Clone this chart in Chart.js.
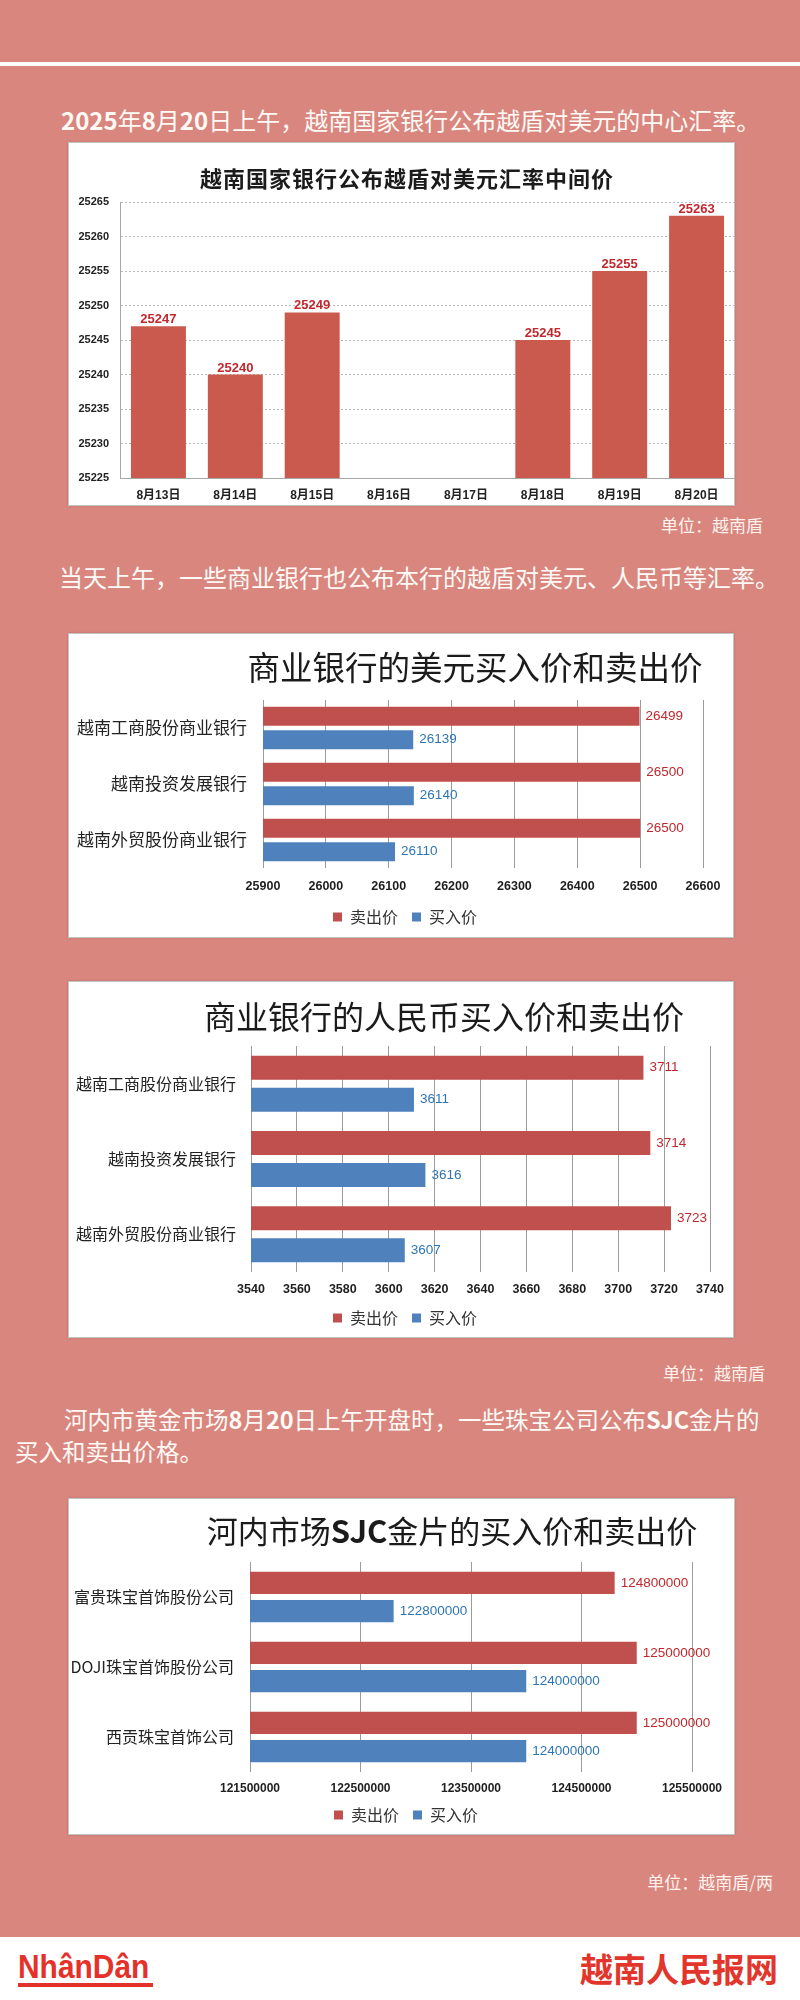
<!DOCTYPE html>
<html><head><meta charset="utf-8">
<script src="https://cdn.jsdelivr.net/npm/chart.js@4.4.1/dist/chart.umd.min.js"></script>
<style>
html,body{margin:0;padding:0}
body{width:800px;height:2000px;position:relative;overflow:hidden;background:#d9867f;font-family:'Noto Sans CJK SC','Noto Sans',sans-serif}
.line{position:absolute;left:0;top:62px;width:800px;height:4px;background:#fff}
.para{position:absolute;color:#fffaf6;font-size:24px;line-height:32px;white-space:nowrap}
.para b{font-weight:700}
.unit{position:absolute;width:300px;color:#fff3ee;font-size:17px;line-height:24px;white-space:nowrap;text-align:right}
.box{position:absolute;background:#fff;box-sizing:border-box;border:1px solid #c4c4c4;box-shadow:0 0 2px rgba(0,0,0,.18)}
.cw{position:absolute}
.ttl{position:absolute;width:700px;text-align:center;white-space:nowrap;color:#1b1b1b}
.footer{position:absolute;left:0;top:1937px;width:800px;height:63px;background:#fff}
</style></head>
<body>
<div class="line"></div>
<div class="para" style="left:61px;top:104px"><b>2025</b>年<b>8</b>月<b>20</b>日上午，越南国家银行公布越盾对美元的中心汇率。</div>

<div class="box" style="left:68px;top:142px;width:667px;height:364px"></div>
<div class="cw" style="left:68px;top:142px;width:667px;height:364px"><canvas id="c1"></canvas></div>
<div class="ttl" style="left:57px;top:161px;font-size:22px;line-height:32px;font-weight:700;letter-spacing:1px">越南国家银行公布越盾对美元汇率中间价</div>
<div class="unit" style="left:463px;top:513px">单位：越南盾</div>

<div class="para" style="left:59px;top:561px">当天上午，一些商业银行也公布本行的越盾对美元、人民币等汇率。</div>

<div class="box" style="left:68px;top:633px;width:666px;height:305px"></div>
<div class="cw" style="left:68px;top:633px;width:674px;height:305px"><canvas id="c2"></canvas></div>
<div class="ttl" style="left:125px;top:644px;font-size:32.5px;line-height:44px">商业银行的美元买入价和卖出价</div>

<div class="box" style="left:68px;top:981px;width:666px;height:357px"></div>
<div class="cw" style="left:68px;top:981px;width:674px;height:357px"><canvas id="c3"></canvas></div>
<div class="ttl" style="left:94px;top:993px;font-size:32px;line-height:44px">商业银行的人民币买入价和卖出价</div>
<div class="unit" style="left:465px;top:1361px">单位：越南盾</div>

<div class="para" style="left:64px;top:1403px;font-size:23.5px">河内市黄金市场<b>8</b>月<b>20</b>日上午开盘时，一些珠宝公司公布<b>SJC</b>金片的</div>
<div class="para" style="left:15px;top:1435px;font-size:23.5px">买入和卖出价格。</div>

<div class="box" style="left:68px;top:1498px;width:667px;height:337px"></div>
<div class="cw" style="left:68px;top:1498px;width:676px;height:337px"><canvas id="c4"></canvas></div>
<div class="ttl" style="left:102px;top:1508px;font-size:31px;line-height:44px">河内市场<b>SJC</b>金片的买入价和卖出价</div>
<div class="unit" style="left:473px;top:1870px">单位：越南盾/两</div>

<div class="footer"></div>
<div style="position:absolute;left:18px;top:1950px;font-family:'Liberation Sans',Arial,sans-serif;font-weight:700;font-size:34px;line-height:32px;color:#e4322b;transform:scaleX(0.88);transform-origin:left top;white-space:nowrap">NhânDân</div>
<div style="position:absolute;left:18px;top:1983px;width:135px;height:4px;background:#e4322b"></div>
<div style="position:absolute;left:478px;top:1948px;width:300px;text-align:right;font-weight:700;font-size:33px;line-height:40px;color:#e2352c;white-space:nowrap">越南人民报网</div>

<script>
// ---- data ----
const rateDays = ['8月13日','8月14日','8月15日','8月16日','8月17日','8月18日','8月19日','8月20日'];
const centralRate = [25247, 25240, 25249, null, null, 25245, 25255, 25263];
const rateTicks = [25225, 25230, 25235, 25240, 25245, 25250, 25255, 25260, 25265];

const seriesNames = ['卖出价', '买入价'];

const usdBanks = ['越南工商股份商业银行', '越南投资发展银行', '越南外贸股份商业银行'];
const usdSell = [26499, 26500, 26500];
const usdBuy = [26139, 26140, 26110];
const usdTicks = [25900, 26000, 26100, 26200, 26300, 26400, 26500, 26600];

const cnyBanks = ['越南工商股份商业银行', '越南投资发展银行', '越南外贸股份商业银行'];
const cnySell = [3711, 3714, 3723];
const cnyBuy = [3611, 3616, 3607];
const cnyTicks = [3540, 3560, 3580, 3600, 3620, 3640, 3660, 3680, 3700, 3720, 3740];

const goldShops = ['富贵珠宝首饰股份公司', 'DOJI珠宝首饰股份公司', '西贡珠宝首饰公司'];
const goldSell = [124800000, 125000000, 125000000];
const goldBuy = [122800000, 124000000, 124000000];
const goldTicks = [121500000, 122500000, 123500000, 124500000, 125500000];

// ---- styles ----
const RED = '#c0504d', BLUE = '#4f81bd', BAR1 = '#cb5a4e';
const LRED = '#c0282d', LBLUE = '#2e75b6';

const valueLabels = {
  id: 'valueLabels',
  afterDatasetsDraw(chart, args, opts) {
    const ctx = chart.ctx;
    chart.data.datasets.forEach((ds, i) => {
      const meta = chart.getDatasetMeta(i);
      meta.data.forEach((el, j) => {
        const v = ds.data[j];
        if (v === null || v === undefined) return;
        ctx.save();
        ctx.font = opts.font;
        ctx.fillStyle = opts.colors[i];
        if (opts.horizontal) {
          ctx.textAlign = 'left'; ctx.textBaseline = 'middle';
          ctx.fillText(String(v), el.x + opts.offset, el.y);
        } else {
          ctx.textAlign = 'center'; ctx.textBaseline = 'alphabetic';
          ctx.fillText(String(v), el.x, el.y - opts.offset);
        }
        ctx.restore();
      });
    });
  }
};

Chart.defaults.font.family = "'Liberation Sans','Noto Sans CJK SC',sans-serif";

new Chart(document.getElementById('c1'), {
  type: 'bar',
  data: { labels: rateDays, datasets: [{ data: centralRate, backgroundColor: BAR1, barPercentage: 0.715, categoryPercentage: 1 }] },
  options: {
    responsive: true, maintainAspectRatio: false, animation: false,
    layout: { padding: { top: 60, left: 0, right: 0, bottom: 0 } },
    scales: {
      x: {
        afterFit: s => { s.height = 28; },
        grid: { display: false, drawTicks: false },
        border: { display: true, color: '#a8a8a8', width: 1 },
        ticks: { padding: 10, color: '#222', font: { weight: 'bold', size: 12 } }
      },
      y: {
        min: rateTicks[0], max: rateTicks[rateTicks.length - 1],
        afterBuildTicks: s => { s.ticks = rateTicks.map(v => ({ value: v })); },
        afterFit: s => { s.width = 52; },
        grid: { color: '#b8b8b8', drawTicks: false },
        border: { display: true, color: '#a8a8a8', dash: [2, 2] },
        ticks: { padding: 11, color: '#222', font: { weight: 'bold', size: 11 }, callback: v => String(v) }
      }
    },
    plugins: {
      legend: { display: false }, tooltip: { enabled: false },
      valueLabels: { font: "bold 13px 'Liberation Sans'", colors: [LRED], offset: 3, horizontal: false }
    }
  },
  plugins: [valueLabels]
});

function hbar(id, labels, sell, buy, ticks, cfg) {
  return new Chart(document.getElementById(id), {
    type: 'bar',
    data: {
      labels: labels,
      datasets: [
        { label: seriesNames[0], data: sell, backgroundColor: RED, categoryPercentage: cfg.cat, barPercentage: cfg.bar },
        { label: seriesNames[1], data: buy, backgroundColor: BLUE, categoryPercentage: cfg.cat, barPercentage: cfg.bar }
      ]
    },
    options: {
      indexAxis: 'y', responsive: true, maintainAspectRatio: false, animation: false,
      layout: { padding: { top: cfg.T, left: 0, right: 0, bottom: cfg.B } },
      scales: {
        x: {
          min: ticks[0], max: ticks[ticks.length - 1],
          afterBuildTicks: s => { s.ticks = ticks.map(v => ({ value: v })); },
          afterFit: s => { s.height = cfg.xh; s.paddingRight = cfg.pr; s.paddingLeft = 0; },
          grid: { color: '#9c9c9c', lineWidth: 1, drawTicks: false },
          border: { display: false },
          ticks: { padding: cfg.tp, color: '#1e1e1e', maxRotation: 0, autoSkip: false,
                   font: { weight: 'bold', size: cfg.tf }, callback: v => String(v) }
        },
        y: {
          afterFit: s => { s.width = cfg.yw; },
          grid: { display: false, drawTicks: false },
          border: { display: false },
          ticks: { padding: cfg.yp, color: '#222', font: { family: "'Noto Sans CJK SC'", size: cfg.yf } }
        }
      },
      plugins: {
        legend: { position: 'bottom', align: 'center',
          labels: { boxWidth: 9, boxHeight: 9, padding: 14, color: '#333', font: { family: "'Noto Sans CJK SC'", size: 16 } } },
        tooltip: { enabled: false },
        valueLabels: { font: "13.5px 'Liberation Sans'", colors: [LRED, LBLUE], offset: 6, horizontal: true }
      }
    },
    plugins: [valueLabels]
  });
}

hbar('c2', usdBanks, usdSell, usdBuy, usdTicks,
  { cat: 0.84, bar: 0.81, T: 67, B: 3, xh: 27, tp: 11, tf: 12.5, yw: 195, pr: 39, yp: 16, yf: 17 });
hbar('c3', cnyBanks, cnySell, cnyBuy, cnyTicks,
  { cat: 0.85, bar: 0.75, T: 65, B: 2, xh: 24, tp: 10, tf: 12.5, yw: 183, pr: 32, yp: 15, yf: 16 });
hbar('c4', goldShops, goldSell, goldBuy, goldTicks,
  { cat: 0.81, bar: 0.79, T: 64, B: 2, xh: 21, tp: 9, tf: 12, yw: 182, pr: 52, yp: 16, yf: 16 });
</script>
</body></html>
